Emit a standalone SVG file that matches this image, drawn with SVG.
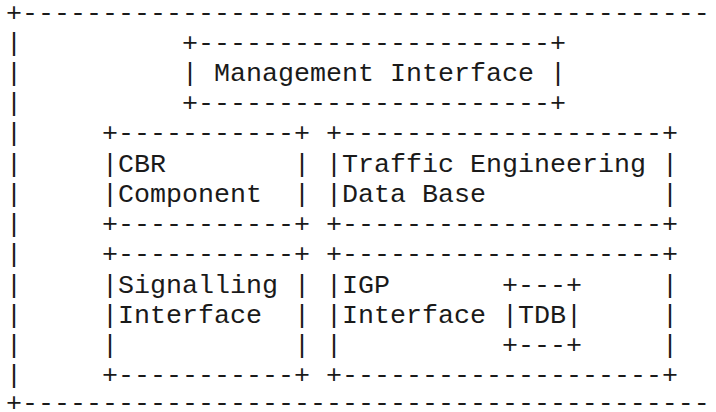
<svg xmlns="http://www.w3.org/2000/svg" width="716" height="412" viewBox="0 0 716 412" xml:space="preserve">
<style>
.t{font-family:"Liberation Mono","Courier New",monospace;font-size:26.67px;fill:#1a1a1a;white-space:pre}
</style>
<rect width="716" height="412" fill="#fff"/>
<g id="frame">
<text class="t" x="6" y="20.5">+-------------------------------------------</text>
<text class="t" x="6" y="50.7">|</text>
<text class="t" x="6" y="80.96">|</text>
<text class="t" x="6" y="111.2">|</text>
<text class="t" x="6" y="141.4">|</text>
<text class="t" x="6" y="171.65">|</text>
<text class="t" x="6" y="201.9">|</text>
<text class="t" x="6" y="232.1">|</text>
<text class="t" x="6" y="262.3">|</text>
<text class="t" x="6" y="292.6">|</text>
<text class="t" x="6" y="322.8">|</text>
<text class="t" x="6" y="353">|</text>
<text class="t" x="6" y="383.3">|</text>
<text class="t" x="6" y="411">+-------------------------------------------</text>
</g>
<g id="management">
<text class="t" x="182" y="50.7">+----------------------+</text>
<text class="t" x="182" y="80.96">| Management Interface |</text>
<text class="t" x="182" y="111.2">+----------------------+</text>
</g>
<g id="cbr">
<text class="t" x="102" y="141.4">+-----------+</text>
<text class="t" x="102" y="171.65">|CBR        |</text>
<text class="t" x="102" y="201.9">|Component  |</text>
<text class="t" x="102" y="232.1">+-----------+</text>
</g>
<g id="ted">
<text class="t" x="326" y="141.4">+--------------------+</text>
<text class="t" x="326" y="171.65">|Traffic Engineering |</text>
<text class="t" x="326" y="201.9">|Data Base           |</text>
<text class="t" x="326" y="232.1">+--------------------+</text>
</g>
<g id="signalling">
<text class="t" x="102" y="262.3">+-----------+</text>
<text class="t" x="102" y="292.6">|Signalling |</text>
<text class="t" x="102" y="322.8">|Interface  |</text>
<text class="t" x="102" y="353">|           |</text>
<text class="t" x="102" y="383.3">+-----------+</text>
</g>
<g id="igp">
<text class="t" x="326" y="262.3">+--------------------+</text>
<text class="t" x="326" y="292.6">|IGP</text>
<text class="t" x="662" y="292.6">|</text>
<text class="t" x="326" y="322.8">|Interface</text>
<text class="t" x="662" y="322.8">|</text>
<text class="t" x="326" y="353">|</text>
<text class="t" x="662" y="353">|</text>
<text class="t" x="326" y="383.3">+--------------------+</text>
</g>
<g id="tdb">
<text class="t" x="502" y="292.6">+---+</text>
<text class="t" x="502" y="322.8">|TDB|</text>
<text class="t" x="502" y="353">+---+</text>
</g>
<g id="connectors"></g>
</svg>
